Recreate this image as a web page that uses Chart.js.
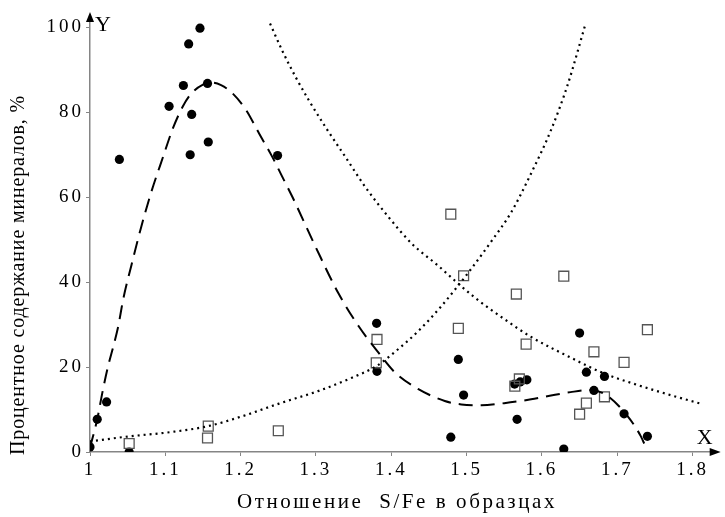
<!DOCTYPE html>
<html>
<head>
<meta charset="utf-8">
<script src="https://cdn.jsdelivr.net/npm/chart.js@4/dist/chart.umd.min.js"></script>
<style>
  html, body { margin: 0; padding: 0; background: #fff; }
  #wrap { width: 725px; height: 517px; }
</style>
</head>
<body>
<div id="wrap"><canvas id="mineralChart"></canvas></div>
<script>
// filled circles
const circleX = [1.0, 1.0096, 1.022, 1.039, 1.052, 1.105, 1.124, 1.131, 1.133, 1.135, 1.146, 1.156, 1.157, 1.249,
  1.3805, 1.381, 1.479, 1.489, 1.496, 1.5637, 1.567, 1.571, 1.580, 1.629, 1.650, 1.659, 1.669, 1.683, 1.709, 1.740];
const circleY = [1.2, 7.7, 11.8, 68.9, 0, 81.4, 86.3, 96.1, 70.0, 79.5, 99.8, 86.8, 73.0, 69.8,
  30.3, 19.0, 3.5, 21.8, 13.4, 16.0, 7.7, 16.5, 17.0, 0.7, 28.0, 18.8, 14.5, 17.8, 9.0, 3.7];

// open squares
const squareX = [1.052, 1.157, 1.156, 1.25, 1.381, 1.380, 1.479, 1.496, 1.489, 1.566,
  1.579, 1.570, 1.564, 1.629, 1.669, 1.740, 1.709, 1.683, 1.659, 1.650];
const squareY = [2.0, 6.1, 3.3, 5.0, 26.5, 21.0, 56.0, 41.5, 29.1, 37.2,
  25.4, 17.2, 15.5, 41.4, 23.6, 28.8, 21.1, 13.0, 11.5, 8.9];

// dashed curve (circles trend)
const dashX = [1.0, 1.0096, 1.017, 1.024, 1.031, 1.0374, 1.044, 1.055, 1.068, 1.0815, 1.097, 1.110, 1.123, 1.134,
  1.150, 1.162, 1.174, 1.189, 1.207, 1.2245, 1.242, 1.255, 1.2686, 1.2995, 1.330, 1.3567, 1.383, 1.405,
  1.436, 1.471, 1.493, 1.5196, 1.550, 1.5856, 1.612, 1.638, 1.665, 1.687, 1.7134, 1.731, 1.737];
const dashY = [1.0, 7.7, 14.5, 20.2, 24.9, 29.5, 35.9, 44, 53, 61.3, 69.5, 76.2, 81.3, 84.3,
  86.5, 87.0, 86.4, 84.5, 80.6, 75.0, 69.5, 64.9, 60.1, 48.3, 37.3, 29.6, 23.4, 18.7,
  14.8, 12.0, 11.2, 11.0, 11.5, 12.4, 13.3, 14.1, 14.6, 13.2, 8.5, 3.8, 1.5];

// dotted curve going down
const downX = [1.239, 1.255, 1.273, 1.2906, 1.3127, 1.339, 1.3655, 1.396, 1.427, 1.462, 1.486, 1.5106,
  1.550, 1.5856, 1.6385, 1.6825, 1.7266, 1.7706, 1.8124];
const downY = [100.9, 94.6, 88.3, 82.8, 76.5, 69.5, 62.4, 55.4, 49.1, 43.9, 40.1, 36.4,
  31.3, 27.1, 22.2, 18.5, 15.8, 13.4, 11.3];

// dotted curve going up
const upX = [1.0, 1.053, 1.1057, 1.157, 1.207, 1.251, 1.3038, 1.3478, 1.381, 1.405, 1.436, 1.4667,
  1.4866, 1.5064, 1.5328, 1.559, 1.5856, 1.612, 1.634, 1.658];
const upY = [2.5, 3.7, 4.65, 6.1, 8.7, 11.4, 14.4, 17.5, 20.3, 23.6, 28.5, 34.4,
  38.7, 43.2, 49.6, 56.4, 65.6, 75.8, 86.4, 100.9];

const xTitle = 'Отношение  S/Fe в образцах';
const yTitle = 'Процентное содержание минералов, %';

const toXY = (xs, ys) => xs.map((x, i) => ({x: x, y: ys[i]}));

const axisColor = '#858585';
const serif = '"Liberation Serif", "Times New Roman", serif';

const lineSet = (xs, ys, dash, width) => ({
  type: 'line',
  data: toXY(xs, ys),
  borderColor: '#000',
  borderWidth: width,
  borderDash: dash,
  pointRadius: 0,
  fill: false,
  cubicInterpolationMode: 'monotone'
});

// stretch a title to the width it has in the picture
const spacedText = (ctx, text, width) => {
  ctx.letterSpacing = '0px';
  const w0 = ctx.measureText(text).width;
  ctx.letterSpacing = Math.max(0, (width - w0) / text.length).toFixed(2) + 'px';
};

// axis arrows, X / Y letters and axis titles
const axisDecor = {
  id: 'axisDecor',
  beforeDraw(chart) {
    chart.ctx.letterSpacing = '3px';
  },
  afterDraw(chart) {
    const {ctx, chartArea} = chart;
    const x0 = chart.scales.x.left;
    const y0 = chart.scales.y.bottom;
    ctx.save();
    ctx.fillStyle = '#000';
    ctx.beginPath();
    ctx.moveTo(chartArea.right + 4, y0);
    ctx.lineTo(chartArea.right - 7, y0 - 4);
    ctx.lineTo(chartArea.right - 7, y0 + 4);
    ctx.closePath();
    ctx.fill();
    ctx.beginPath();
    ctx.moveTo(x0, chartArea.top - 6);
    ctx.lineTo(x0 - 4, chartArea.top + 4);
    ctx.lineTo(x0 + 4, chartArea.top + 4);
    ctx.closePath();
    ctx.fill();

    ctx.letterSpacing = '0px';
    ctx.font = '22px ' + serif;
    ctx.textBaseline = 'alphabetic';
    ctx.textAlign = 'left';
    ctx.fillText('Y', x0 + 5, 31);
    ctx.fillText('X', chartArea.right - 20, y0 - 8);

    ctx.textAlign = 'center';
    ctx.textBaseline = 'middle';
    ctx.font = '21px ' + serif;
    spacedText(ctx, xTitle, 320);
    ctx.fillText(xTitle, 397, 502);

    ctx.font = '20px ' + serif;
    spacedText(ctx, yTitle, 360);
    ctx.translate(19, 275);
    ctx.rotate(-Math.PI / 2);
    ctx.fillText(yTitle, 0, 0);
    ctx.restore();
  }
};

new Chart(document.getElementById('mineralChart'), {
  type: 'scatter',
  data: {
    datasets: [
      lineSet(dashX, dashY, [14, 8], 2),
      lineSet(downX, downY, [2, 4], 2.2),
      lineSet(upX, upY, [2, 4], 2.2),
      {
        data: toXY(squareX, squareY),
        pointStyle: 'rect',
        pointRadius: 7,
        pointBorderColor: '#555',
        pointBorderWidth: 1.3,
        pointBackgroundColor: 'rgba(0,0,0,0)'
      },
      {
        data: toXY(circleX, circleY),
        pointStyle: 'circle',
        pointRadius: 4.6,
        pointBorderWidth: 0,
        pointBackgroundColor: '#000'
      }
    ]
  },
  options: {
    responsive: true,
    maintainAspectRatio: false,
    animation: false,
    layout: { padding: { left: 0, right: 5, top: 18, bottom: 0 } },
    plugins: { legend: { display: false }, tooltip: { enabled: false } },
    scales: {
      x: {
        type: 'linear',
        min: 1,
        max: 1.832,
        afterFit: scale => { scale.height = 65; },
        border: { color: axisColor, width: 1.5 },
        grid: { drawOnChartArea: false, drawTicks: true, tickLength: 4, color: axisColor },
        ticks: {
          stepSize: 0.1,
          includeBounds: false,
          padding: 3,
          color: '#000',
          font: { family: serif, size: 19 },
          maxRotation: 0,
          callback: v => (Math.abs(v - 1) < 1e-9 ? '1' : (+v.toFixed(1)).toString())
        }
      },
      y: {
        min: 0,
        max: 102.2,
        afterFit: scale => { scale.width = 90; },
        border: { color: axisColor, width: 1.5 },
        grid: { drawOnChartArea: false, drawTicks: true, tickLength: 4, color: axisColor },
        ticks: {
          stepSize: 20,
          includeBounds: false,
          padding: 2,
          color: '#000',
          font: { family: serif, size: 19 }
        }
      }
    }
  },
  plugins: [axisDecor]
});
</script>
</body>
</html>
